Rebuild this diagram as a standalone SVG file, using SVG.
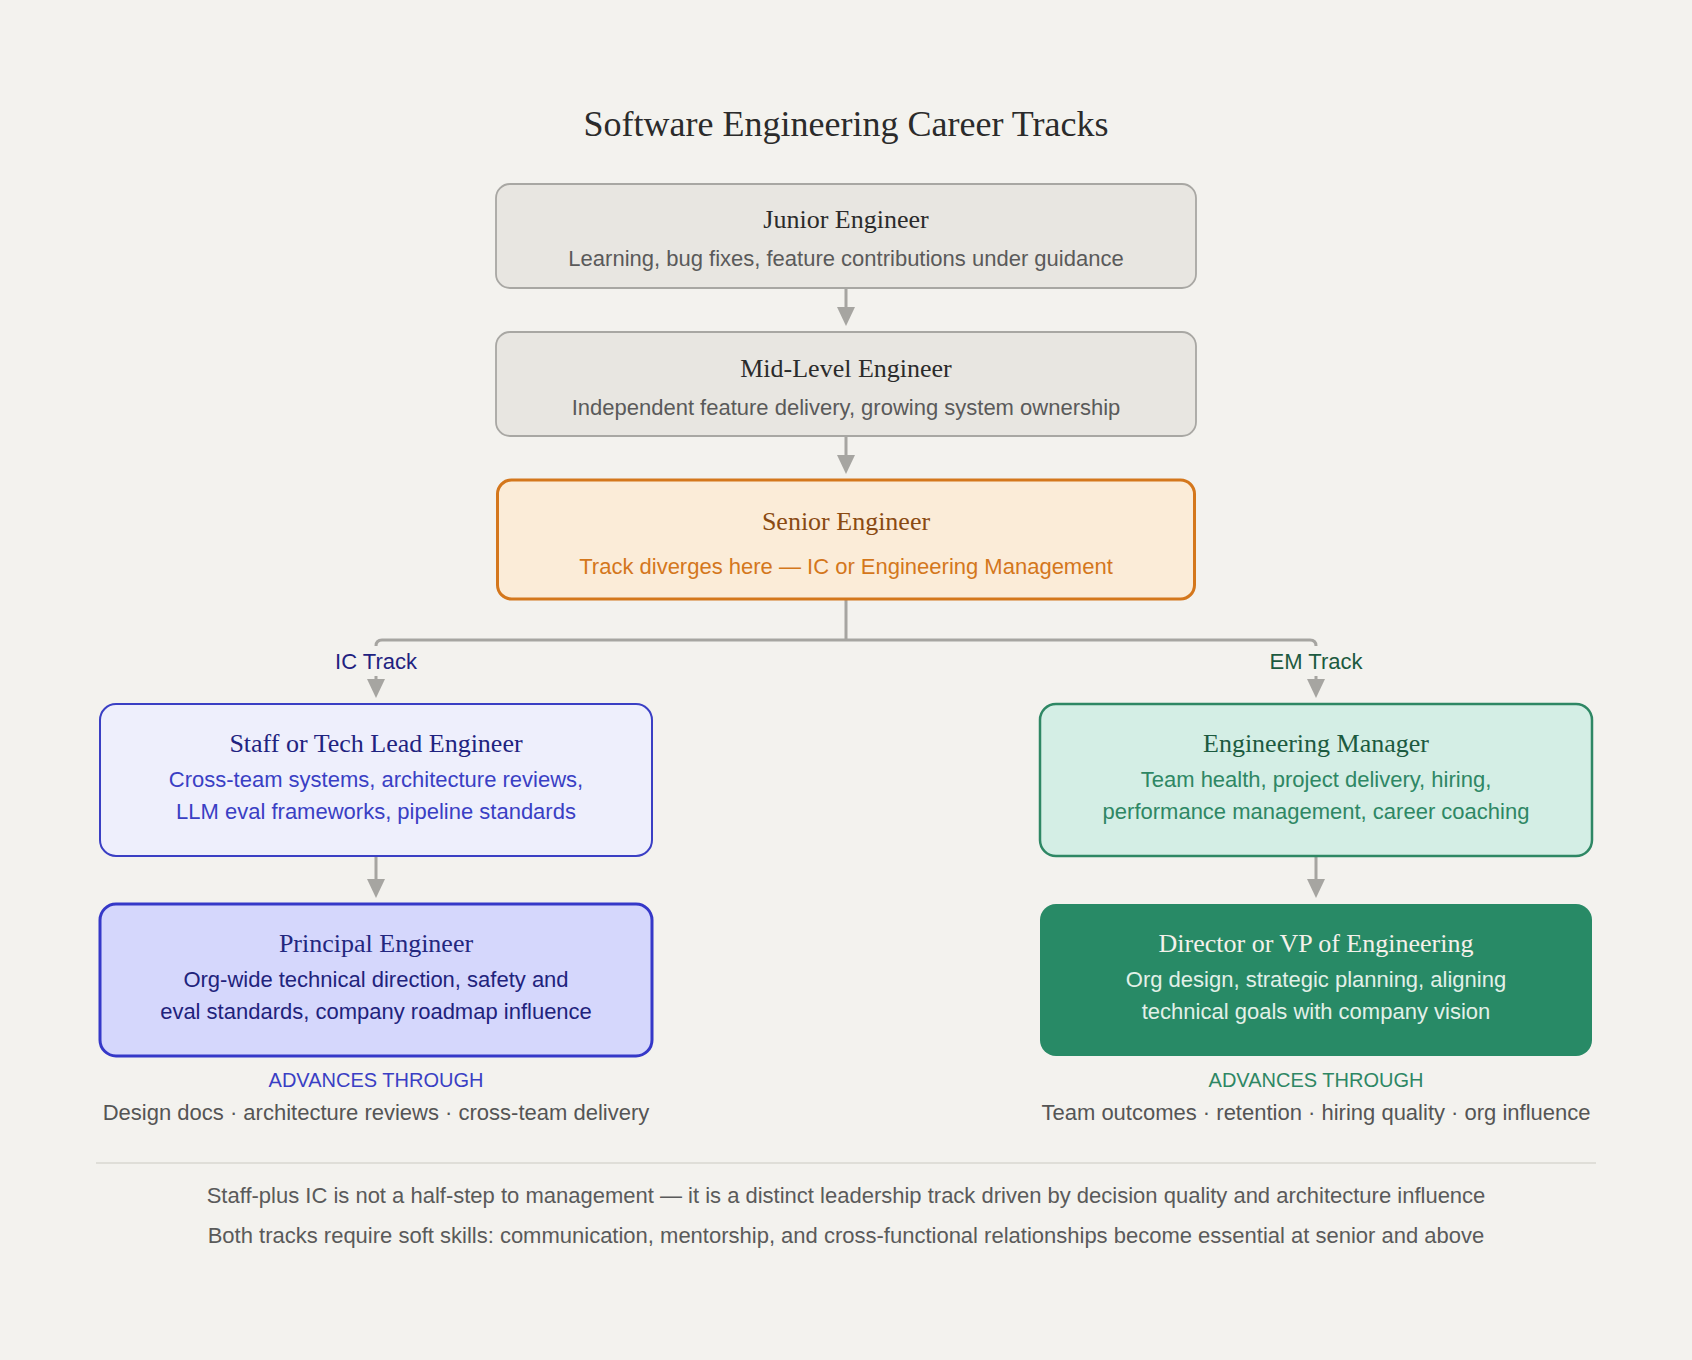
<svg xmlns="http://www.w3.org/2000/svg" width="1692" height="1360" viewBox="0 0 1692 1360">
  <defs>
    <marker id="arrow" viewBox="0 0 20 20" refX="10" refY="10" markerWidth="20" markerHeight="20" markerUnits="userSpaceOnUse" orient="auto">
      <path d="M0,1 L19,10 L0,19 z" fill="#a6a5a1"/>
    </marker>
  </defs>
  <style>
    .serif { font-family: "Liberation Serif", "Times New Roman", serif; }
    .sans { font-family: "Liberation Sans", Arial, sans-serif; }
    .title { font-size: 36px; fill: #2b2b2b; }
    .ntitle { font-size: 26px; text-anchor: middle; }
    .nsub { font-size: 22px; text-anchor: middle; }
    .conn { fill: none; stroke: #a6a5a1; stroke-width: 3; }
    .track { font-size: 22px; text-anchor: middle; }
    .adv { font-size: 20px; text-anchor: middle; }
    .advtext { font-size: 22px; text-anchor: middle; fill: #555555; }
    .foot { font-size: 22px; text-anchor: middle; fill: #5a5a5a; }
    .neutral { fill: #e8e6e1; stroke: #a8a7a3; stroke-width: 1.8; }
  </style>

  <rect x="0" y="0" width="1692" height="1360" fill="#f3f2ee"/>

  <text class="serif title" x="846" y="136" text-anchor="middle">Software Engineering Career Tracks</text>

  <g id="connectors">
    <line class="conn" x1="846" y1="288" x2="846" y2="317" marker-end="url(#arrow)"/>
    <line class="conn" x1="846" y1="436" x2="846" y2="465" marker-end="url(#arrow)"/>
    <path class="conn" d="M846,599 V640"/>
    <path class="conn" d="M376,646 Q376,640 382,640 H1310 Q1316,640 1316,646"/>
    <line class="conn" x1="376" y1="676" x2="376" y2="689" marker-end="url(#arrow)"/>
    <line class="conn" x1="1316" y1="676" x2="1316" y2="689" marker-end="url(#arrow)"/>
    <line class="conn" x1="376" y1="856" x2="376" y2="889" marker-end="url(#arrow)"/>
    <line class="conn" x1="1316" y1="856" x2="1316" y2="889" marker-end="url(#arrow)"/>
    <text class="sans track" x="376" y="669" fill="#1f2280">IC Track</text>
    <text class="sans track" x="1316" y="669" fill="#1c5a40">EM Track</text>
  </g>

  <g id="junior">
    <rect class="neutral" x="496" y="184" width="700" height="104" rx="14"/>
    <text class="serif ntitle" x="846" y="228" fill="#2b2b2b">Junior Engineer</text>
    <text class="sans nsub" x="846" y="266" fill="#5a5a5a">Learning, bug fixes, feature contributions under guidance</text>
  </g>

  <g id="mid">
    <rect class="neutral" x="496" y="332" width="700" height="104" rx="14"/>
    <text class="serif ntitle" x="846" y="377" fill="#2b2b2b">Mid-Level Engineer</text>
    <text class="sans nsub" x="846" y="415" fill="#5a5a5a">Independent feature delivery, growing system ownership</text>
  </g>

  <g id="senior">
    <rect x="497.5" y="480" width="697" height="119" rx="14" fill="#fbecd8" stroke="#d4771c" stroke-width="3"/>
    <text class="serif ntitle" x="846" y="530" fill="#8a4a12">Senior Engineer</text>
    <text class="sans nsub" x="846" y="574" fill="#d4771c">Track diverges here — IC or Engineering Management</text>
  </g>

  <g id="staff">
    <rect x="100" y="704" width="552" height="152" rx="16" fill="#eeeffc" stroke="#3a3fc4" stroke-width="2"/>
    <text class="serif ntitle" x="376" y="752" fill="#1f2380">Staff or Tech Lead Engineer</text>
    <text class="sans nsub" x="376" y="787" fill="#3a3fc4">Cross-team systems, architecture reviews,</text>
    <text class="sans nsub" x="376" y="819" fill="#3a3fc4">LLM eval frameworks, pipeline standards</text>
  </g>

  <g id="principal">
    <rect x="100" y="904" width="552" height="152" rx="16" fill="#d5d7fc" stroke="#3538c8" stroke-width="3"/>
    <text class="serif ntitle" x="376" y="952" fill="#23277f">Principal Engineer</text>
    <text class="sans nsub" x="376" y="987" fill="#1f237c">Org-wide technical direction, safety and</text>
    <text class="sans nsub" x="376" y="1019" fill="#1f237c">eval standards, company roadmap influence</text>
  </g>

  <g id="ic-advances">
    <text class="sans adv" x="376" y="1087" fill="#3a3fc4">ADVANCES THROUGH</text>
    <text class="sans advtext" x="376" y="1120">Design docs · architecture reviews · cross-team delivery</text>
  </g>

  <g id="em">
    <rect x="1040" y="704" width="552" height="152" rx="16" fill="#d4eee5" stroke="#2e8764" stroke-width="2.5"/>
    <text class="serif ntitle" x="1316" y="752" fill="#1c5a40">Engineering Manager</text>
    <text class="sans nsub" x="1316" y="787" fill="#2e8764">Team health, project delivery, hiring,</text>
    <text class="sans nsub" x="1316" y="819" fill="#2e8764">performance management, career coaching</text>
  </g>

  <g id="director">
    <rect x="1040" y="904" width="552" height="152" rx="16" fill="#288a66"/>
    <text class="serif ntitle" x="1316" y="952" fill="#f4f1ea">Director or VP of Engineering</text>
    <text class="sans nsub" x="1316" y="987" fill="#e2f0e8">Org design, strategic planning, aligning</text>
    <text class="sans nsub" x="1316" y="1019" fill="#e2f0e8">technical goals with company vision</text>
  </g>

  <g id="em-advances">
    <text class="sans adv" x="1316" y="1087" fill="#2e8764">ADVANCES THROUGH</text>
    <text class="sans advtext" x="1316" y="1120">Team outcomes · retention · hiring quality · org influence</text>
  </g>

  <g id="footer">
    <line x1="96" y1="1163" x2="1596" y2="1163" stroke="#d9d7d1" stroke-width="1.5"/>
    <text class="sans foot" x="846" y="1203">Staff-plus IC is not a half-step to management — it is a distinct leadership track driven by decision quality and architecture influence</text>
    <text class="sans foot" x="846" y="1243">Both tracks require soft skills: communication, mentorship, and cross-functional relationships become essential at senior and above</text>
  </g>
</svg>
